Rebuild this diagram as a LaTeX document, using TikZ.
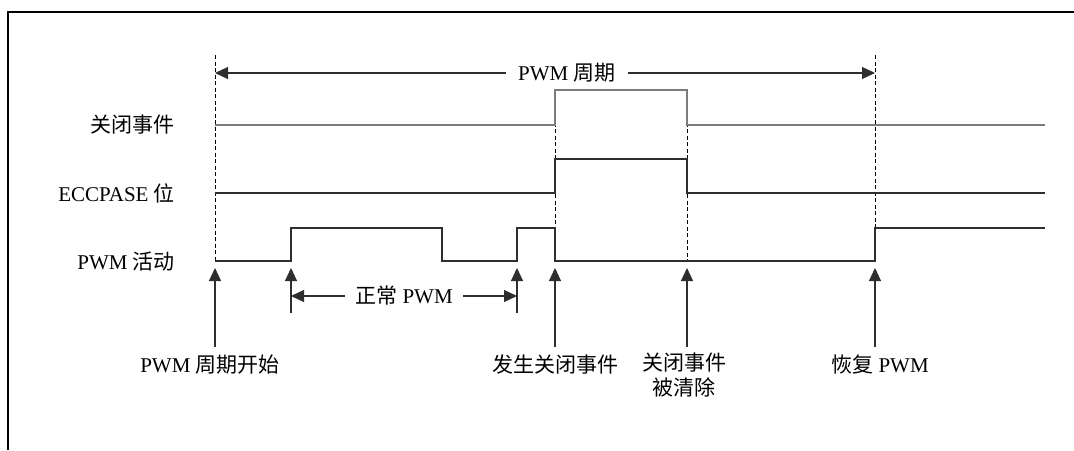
\documentclass[tikz,border=0pt]{standalone}
\usepackage{fontspec}
\setmainfont{Liberation Serif}
\newfontfamily\cjk{Noto Sans CJK SC}
\usepackage{tikz}
\usetikzlibrary{arrows.meta,positioning,calc}
\definecolor{wire}{HTML}{2E2E2E}
\definecolor{softwire}{HTML}{7C7C7C}

\begin{document}
\begin{tikzpicture}[x=1pt,y=-1pt,
  signame/.style={anchor=east,inner sep=0pt,font=\fontsize{21}{26}\selectfont},
  eventtext/.style={align=center,inner sep=0pt,font=\fontsize{21}{25}\selectfont},
  spantext/.style={fill=white,inner xsep=12pt,inner ysep=2pt,font=\fontsize{21}{25}\selectfont},
  trace/.style={draw=wire,line width=1.1pt},
  softtrace/.style={draw=softwire,line width=1.4pt},
  guide/.style={draw=black,dash pattern=on 4pt off 2.5pt,line width=0.9pt},
  arrow/.style={-{Triangle[length=13pt,width=12pt]},line width=1.1pt,draw=wire},
  span/.style={{Triangle[length=13pt,width=12pt]}-{Triangle[length=13pt,width=12pt]},line width=1.1pt,draw=wire}
]
\useasboundingbox (0,0) rectangle (1074,450);
\draw[line width=1.8pt] (8,450) -- (8,12) -- (1074,12);

% signal names
\node[signame] (evt) at (175,125) {{\cjk 关闭事件}};
\node[signame] (ecc) at (175,193) {ECCPASE {\cjk 位}};
\node[signame] (pwm) at (175,262) {PWM {\cjk 活动}};

% guide lines
\draw[guide] (215,55) -- (215,261);
\draw[guide] (875,55) -- (875,261);
\draw[guide] (555,90) -- (555,261);
\draw[guide] (687,90) -- (687,261);

% waveforms
\draw[softtrace] (215,125) -- (555,125) -- (555,90) -- (687,90) -- (687,125) -- (1045,125);
\draw[trace] (215,193) -- (555,193) -- (555,159) -- (687,159) -- (687,193) -- (1045,193);
\draw[trace] (215,261) -- (291,261) -- (291,228) -- (442,228) -- (442,261) -- (517,261)
  -- (517,228) -- (555,228) -- (555,261) -- (875,261) -- (875,228) -- (1045,228);

% PWM period
\coordinate (pstart) at (215,73);
\coordinate (pend) at (875,73);
\draw[span] (pstart) -- node[spantext,pos=0.533] (period) {PWM {\cjk 周期}} (pend);

% normal PWM
\coordinate (nstart) at (291,296);
\coordinate (nend) at (517,296);
\draw[span] (nstart) -- node[spantext,inner xsep=10pt] (normal) {{\cjk 正常} PWM} (nend);

% event markers
\node[eventtext] (start) at (210,365) {PWM {\cjk 周期开始}};
\node[eventtext] (shut) at (555,365) {{\cjk 发生关闭事件}};
\node[eventtext] (clear) at (684,375.5) {{\cjk 关闭事件}\\{\cjk 被清除}};
\node[eventtext] (resume) at (880,365) {{\cjk 恢复} PWM};

\coordinate (tstart) at (215,268);
\coordinate (tup1) at (291,268);
\coordinate (tup2) at (517,268);
\coordinate (tshut) at (555,268);
\coordinate (tclear) at (687,268);
\coordinate (tresume) at (875,268);

\draw[arrow] (215,347) -- (tstart);
\draw[arrow] (291,313) -- (tup1);
\draw[arrow] (517,313) -- (tup2);
\draw[arrow] (555,347) -- (tshut);
\draw[arrow] (687,347) -- (tclear);
\draw[arrow] (875,347) -- (tresume);
\end{tikzpicture}
\end{document}
